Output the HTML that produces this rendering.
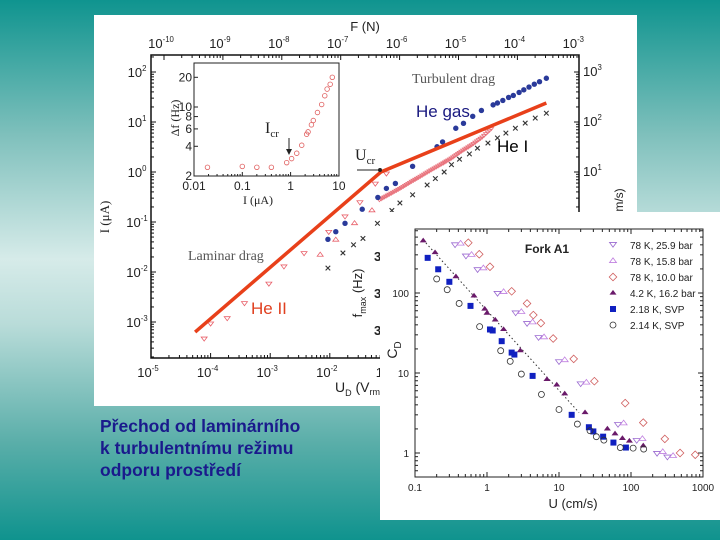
<!DOCTYPE html>
<html><head><meta charset="utf-8"><style>
html,body{margin:0;padding:0}
body{width:720px;height:540px;overflow:hidden;background:linear-gradient(to bottom,#0f948f 0%,#7fc0bc 25%,#d6ebe9 48%,#b9dcd9 60%,#5aaea9 82%,#0f938e 100%);font-family:"Liberation Sans",sans-serif}
svg{position:absolute;left:0;top:0}
</style></head><body>
<svg id="s" width="720" height="540" viewBox="0 0 720 540">
<rect x="94" y="15" width="543" height="391" fill="#fff"/>
<g id="main"></g>
<rect x="380" y="212" width="340" height="308" fill="#fff"/>
<g id="cd"></g>
<text x="100" y="432" font-size="17.5" font-weight="bold" fill="#1a1a8c" font-family="Liberation Sans, sans-serif">Přechod od laminárního</text>
<text x="100" y="454" font-size="17.5" font-weight="bold" fill="#1a1a8c" font-family="Liberation Sans, sans-serif">k turbulentnímu režimu</text>
<text x="100" y="476" font-size="17.5" font-weight="bold" fill="#1a1a8c" font-family="Liberation Sans, sans-serif">odporu prostředí</text>
</svg>
<script>
// ===== main chart data =====
const lineU=[5.5e-5,0.072,43];
const lineI=[6.3e-4,1.0,24];
const gasU=[0.0093,0.0126,0.018,0.035,0.064,0.089,0.126,0.245,0.63,0.78,1.3,1.75,2.5,3.5,5.5,6.5,8,10,12,15,18,22,27,33,43];
const gasI=[0.045,0.064,0.094,0.18,0.31,0.47,0.59,1.3,3.2,4.0,7.5,9.4,13,17,22,24,27,31,34,39,44,50,57,64,75];
const heIU=[0.0093,0.0166,0.025,0.036,0.063,0.11,0.15,0.245,0.43,0.59,0.83,1.1,1.5,2.2,3,4.5,6.5,9,13,19,28,43];
const heIIv=[0.012,0.024,0.035,0.047,0.094,0.17,0.24,0.35,0.55,0.74,1.0,1.4,1.8,2.3,3.0,3.8,4.8,6,7.5,9.5,12,15];
const heIIU=[7.8e-5,1e-4,1.9e-4,3.7e-4,9.5e-4,1.7e-3,3.7e-3,9.6e-3,0.018,0.032,0.058,0.089];
const heIII=[4.7e-4,9.4e-4,1.2e-3,2.4e-3,5.9e-3,0.013,0.024,0.064,0.13,0.25,0.59,0.94];
const upU=[6.9e-3,0.0126,0.026,0.051];
const upI=[0.022,0.044,0.094,0.17];
const bandU=[0.068,0.1,0.15,0.22,0.33,0.5,0.75,1.1,1.6,2.4,3.6,5.5];
const bandI=[0.28,0.36,0.47,0.62,0.82,1.1,1.45,1.9,2.6,3.5,5.0,8];
const insetI=[0.019,0.1,0.2,0.4,0.83,1.05,1.34,1.7,2.15,2.3,2.7,2.95,3.6,4.4,5.1,5.7,6.6,7.3];
const insetDf=[2.45,2.5,2.45,2.45,2.73,3.0,3.4,4.1,5.3,5.6,6.6,7.3,8.8,10.6,13,15.2,17,20];
const mainXTicks=[-5,-4,-3,-2,-1];
const mainYTicks=[2,1,0,-1,-2,-3];
const topTicks=[-10,-9,-8,-7,-6,-5,-4,-3];
const rightTicks=[3,2,1];
const insetXLabels=["0.01","0.1","1","10"];
const insetYTicks=[2,4,6,8,10,20];
// ===== CD chart data =====
const dnU=[0.36,0.51,0.74,1.4,2.5,3.6,5.2,10,20,66,120,230,320];
const dnC=[405,293,198,100,57,42,28,14,7.4,2.3,1.45,1.0,0.9];
const upCU=[0.43,0.61,0.89,1.7,3.0,4.3,6.2,12,24,79,144,276,384];
const upCC=[415,300,204,103,58,43,28,14.5,7.6,2.35,1.5,1.03,0.92];
const diaU=[0.55,0.78,1.1,2.2,3.6,4.4,5.6,8.3,16,31,83,148,295,480,780];
const diaC=[425,305,213,105,74,53,42,27,15,7.9,4.2,2.4,1.5,1.0,0.95];
const triU=[0.13,0.19,0.37,0.66,0.93,1.0,1.3,1.7,2.9,6.8,9.3,12,23,47,60,76,95,148];
const triC=[450,320,160,92,63,56,46,35,19,8.3,7.1,5.5,3.2,2.0,1.74,1.52,1.41,1.23];
const sqU=[0.15,0.21,0.30,0.59,1.1,1.2,1.6,2.2,2.4,4.3,15,26,30,41,57,85];
const sqC=[275,198,138,69,35,34,25,18,17,9.2,3.0,2.1,1.86,1.6,1.35,1.17];
const ocU=[0.20,0.28,0.41,0.79,1.55,2.1,3.0,5.7,10,18,27,33,42,71,107,150];
const ocC=[150,110,74,38,19,14,9.7,5.4,3.5,2.3,1.9,1.6,1.45,1.17,1.15,1.12];
const fitU=[0.13,19];
const fitC=[460,3.2];
const cdXLabels=["0.1","1","10","100","1000"];
const cdYLabels=["1","10","100"];
const legendLabels=["78 K, 25.9 bar","78 K, 15.8 bar","78 K, 10.0 bar","4.2 K, 16.2 bar","2.18 K, SVP","2.14 K, SVP"];

const NS="http://www.w3.org/2000/svg";
const L=Math.log10;
function E(p,tag,a,txt){const e=document.createElementNS(NS,tag);for(const k in a)e.setAttribute(k,a[k]);if(txt!==undefined)e.textContent=txt;p.appendChild(e);return e;}
const main=document.getElementById('main');
const cd=document.getElementById('cd');
const mx=v=>151+(L(v)+5)*59.6;
const my=v=>72+(2-L(v))*50;
const fx=e=>164+(e+10)*58.9;
const ix=v=>194+(L(v)+2)*48.3;
const iy=v=>176-(L(v)-L(2))*98.7;
const cx=v=>415+(L(v)+1)*72;
const cy=v=>293+(2-L(v))*80;

function sup(p,x,y,base,ex,fs,anchor,name){
  const t=E(p,'text',{x:x,y:y,'font-size':fs,'text-anchor':anchor||'middle',fill:'#222'});
  
  
  t.appendChild(document.createTextNode(base));
  const s=document.createElementNS(NS,'tspan');s.setAttribute('dy',-fs*0.45);s.setAttribute('font-size',fs*0.6);s.textContent=ex;t.appendChild(s);
  return t;
}
const fr=E(main,'rect',{x:151,y:55,width:428,height:303,fill:'none',stroke:'#111','stroke-width':1.5});


for(let d=-5;d<2.2;d++)for(let k=1;k<10;k++){const x=mx(k*Math.pow(10,d));if(x>579)break;const len=k==1?5:3;
  E(main,'line',{x1:x,y1:358,x2:x,y2:358-len,stroke:'#111'});}
for(let d=-10;d<-3;d++)for(let k=1;k<10;k++){const x=fx(d+L(k));if(x>579)break;const len=k==1?5:3;
  E(main,'line',{x1:x,y1:55,x2:x,y2:55+len,stroke:'#111'});}
for(let d=-4;d<3;d++)for(let k=1;k<10;k++){const y=my(k*Math.pow(10,d));if(y<55||y>358)continue;const len=k==1?5:3;
  E(main,'line',{x1:151,y1:y,x2:151+len,y2:y,stroke:'#111'});E(main,'line',{x1:579,y1:y,x2:579-len,y2:y,stroke:'#111'});}
mainXTicks.forEach(e=>sup(main,mx(Math.pow(10,e))-3,377,'10',String(e),13,'middle','x-tick-label'));
mainYTicks.forEach(e=>sup(main,137,my(Math.pow(10,e))+5,'10',String(e),13,'middle','y-tick-label'));
topTicks.forEach(e=>sup(main,fx(e)-3,48,'10',String(e),13,'middle','top-tick-label'));
rightTicks.forEach((e,i)=>sup(main,583,my(Math.pow(10,e-1))+4,'10',String(e),13,'start','right-tick-label'));
let t;
t=E(main,'text',{x:365,y:31,'font-size':13,'text-anchor':'middle',fill:'#222'},'F (N)');
t=E(main,'text',{x:0,y:0,'font-size':13,'text-anchor':'middle',fill:'#222','font-family':'Liberation Serif, serif',transform:'translate(109,217) rotate(-90)'},'I (μA)');
t=E(main,'text',{x:0,y:0,'font-size':12,'text-anchor':'middle',fill:'#222',transform:'translate(623,200) rotate(-90)'},'m/s)');
t=E(main,'text',{x:335,y:392,'font-size':14,fill:'#222'},'U');
E(t,'tspan',{dy:4,'font-size':9},'D');E(t,'tspan',{dy:-4},' (V');E(t,'tspan',{dy:3,'font-size':9},'rm');
[256,293,330].forEach(y=>{const q=E(main,'text',{x:374,y:y+5,'font-size':13,'font-weight':'bold',fill:'#222'},'3');});
t=E(main,'text',{x:0,y:0,'font-size':13,'text-anchor':'middle',fill:'#222',transform:'translate(362,293) rotate(-90)'},'f');
E(t,'tspan',{dy:4,'font-size':9},'max');E(t,'tspan',{dy:-4},' (Hz)');
function circ(p,x,y,r,fill,stroke,name){const c=E(p,'circle',{cx:x,cy:y,r:r,fill:fill,stroke:stroke||'none','stroke-width':0.8});}
function tri(p,x,y,s,down,fill,stroke,name){const h=s*0.9;const pts=down?`${x-s},${y-h/2} ${x+s},${y-h/2} ${x},${y+h}`:`${x-s},${y+h/2} ${x+s},${y+h/2} ${x},${y-h}`;const c=E(p,'polygon',{points:pts,fill:fill,stroke:stroke||'none','stroke-width':0.8});}
function cross(p,x,y,s,col,name){const g=E(p,'path',{d:`M${x-s},${y-s}L${x+s},${y+s}M${x-s},${y+s}L${x+s},${y-s}`,stroke:col,'stroke-width':1.1});}
bandU.forEach((u,i)=>{if(i<bandU.length-1){const n=6;for(let j=0;j<n;j++){const a=j/n;const uu=Math.pow(10,L(u)+(L(bandU[i+1])-L(u))*a),ii=Math.pow(10,L(bandI[i])+(L(bandI[i+1])-L(bandI[i]))*a);tri(main,mx(uu),my(ii),2.3,true,'none','#e8707a','he-ii-band-point');}}});
heIIU.forEach((u,i)=>tri(main,mx(u),my(heIII[i]),3,true,'none','#e8606a','he-ii-point'));
upU.forEach((u,i)=>tri(main,mx(u),my(upI[i]),3,false,'none','#e8606a','he-ii-up-point'));
heIU.forEach((u,i)=>cross(main,mx(u),my(heIIv[i]),2.3,'#333','he-i-point'));
gasU.forEach((u,i)=>circ(main,mx(u),my(gasI[i]),2.7,'#2a3a9a',null,'he-gas-point'));
const lp=lineU.map((u,i)=>`${mx(u)},${my(lineI[i])}`).join(' ');
const pl=E(main,'polyline',{points:lp,fill:'none',stroke:'#e8401a','stroke-width':3.5});
E(main,'line',{x1:357,y1:170,x2:380,y2:170,stroke:'#222','stroke-width':1});
E(main,'circle',{cx:380,cy:170,r:2,fill:'#222'});
t=E(main,'text',{x:355,y:160,'font-size':16,fill:'#222','font-family':'Liberation Serif, serif'},'U');E(t,'tspan',{dy:4,'font-size':11},'cr');
t=E(main,'text',{x:412,y:83,'font-size':14,fill:'#555','font-family':'Liberation Serif, serif'},'Turbulent drag');
t=E(main,'text',{x:188,y:260,'font-size':14,fill:'#555','font-family':'Liberation Serif, serif'},'Laminar drag');
t=E(main,'text',{x:416,y:117,'font-size':17,fill:'#1a1a80'},'He gas');
t=E(main,'text',{x:497,y:152,'font-size':17,fill:'#000'},'He I');
t=E(main,'text',{x:251,y:314,'font-size':17,fill:'#e04020'},'He II');
const ib=E(main,'rect',{x:194,y:63,width:145,height:113,fill:'#fff',stroke:'#222','stroke-width':1});
for(let d=-2;d<1;d++)for(let k=1;k<10;k++){const x=ix(k*Math.pow(10,d));E(main,'line',{x1:x,y1:176,x2:x,y2:176-(k==1?4:2),stroke:'#222'});}
insetXLabels.forEach(s=>{const q=E(main,'text',{x:ix(parseFloat(s)),y:190,'font-size':12,'text-anchor':'middle',fill:'#222'},s);});
insetYTicks.forEach(v=>{E(main,'line',{x1:194,y1:iy(v),x2:198,y2:iy(v),stroke:'#222'});const q=E(main,'text',{x:192,y:iy(v)+4,'font-size':12,'text-anchor':'end',fill:'#222'},String(v));});
t=E(main,'text',{x:258,y:204,'font-size':12,'text-anchor':'middle',fill:'#222','font-family':'Liberation Serif, serif'},'I (μA)');
t=E(main,'text',{x:0,y:0,'font-size':12,'text-anchor':'middle',fill:'#222','font-family':'Liberation Serif, serif',transform:'translate(179,118) rotate(-90)'},'Δf (Hz)');
t=E(main,'text',{x:265,y:133,'font-size':16,fill:'#222','font-family':'Liberation Serif, serif'},'I');E(t,'tspan',{dy:4,'font-size':11},'cr');
E(main,'line',{x1:289,y1:138,x2:289,y2:152,stroke:'#222'});E(main,'polygon',{points:'286,149 292,149 289,155',fill:'#222'});
insetI.forEach((v,i)=>circ(main,ix(v),iy(insetDf[i]),2.3,'none','#e06060','inset-point'));

// ===== CD chart =====
const cf=E(cd,'rect',{x:415,y:229,width:288,height:248,fill:'none',stroke:'#222','stroke-width':1});
for(let d=-1;d<3;d++)for(let k=1;k<10;k++){const x=cx(k*Math.pow(10,d));E(cd,'line',{x1:x,y1:477,x2:x,y2:477-(k==1?5:3),stroke:'#222'});E(cd,'line',{x1:x,y1:229,x2:x,y2:229+(k==1?5:3),stroke:'#222'});}
for(let d=-1;d<3;d++)for(let k=1;k<10;k++){const y=cy(k*Math.pow(10,d));if(y<229||y>477)continue;E(cd,'line',{x1:415,y1:y,x2:415+(k==1?5:3),y2:y,stroke:'#222'});E(cd,'line',{x1:703,y1:y,x2:703-(k==1?5:3),y2:y,stroke:'#222'});}
cdXLabels.forEach(s=>{const q=E(cd,'text',{x:cx(parseFloat(s)),y:491,'font-size':10,'text-anchor':'middle',fill:'#222'},s);});
cdYLabels.forEach(s=>{const q=E(cd,'text',{x:409,y:cy(parseFloat(s))+4,'font-size':10,'text-anchor':'end',fill:'#222'},s);});
t=E(cd,'text',{x:573,y:508,'font-size':13,'text-anchor':'middle',fill:'#222'},'U (cm/s)');
t=E(cd,'text',{x:0,y:0,'font-size':14,'text-anchor':'middle',fill:'#222',transform:'translate(397,350) rotate(-90)'},'C');E(t,'tspan',{dy:4,'font-size':10},'D');
t=E(cd,'text',{x:547,y:253,'font-size':12,'font-weight':'bold','text-anchor':'middle',fill:'#222'},'Fork A1');
const fl=E(cd,'line',{x1:cx(fitU[0]),y1:cy(fitC[0]),x2:cx(fitU[1]),y2:cy(fitC[1]),stroke:'#333','stroke-width':1,'stroke-dasharray':'1.5,2.5'});
function dia(p,x,y,s,col,name){const c=E(p,'polygon',{points:`${x},${y-s} ${x+s},${y} ${x},${y+s} ${x-s},${y}`,fill:'none',stroke:col,'stroke-width':0.8});}
function sq(p,x,y,s,col,name){const c=E(p,'rect',{x:x-s,y:y-s,width:2*s,height:2*s,fill:col});}
dnU.forEach((u,i)=>tri(cd,cx(u),cy(dnC[i]),3.5,true,'none','#9a6ad0','cd-78k-25-9-point'));
upCU.forEach((u,i)=>tri(cd,cx(u),cy(upCC[i]),3.5,false,'none','#c080e0','cd-78k-15-8-point'));
diaU.forEach((u,i)=>dia(cd,cx(u),cy(diaC[i]),3.8,'#d06060','cd-78k-10-0-point'));
triU.forEach((u,i)=>tri(cd,cx(u),cy(triC[i]),3.5,false,'#6a1a6a',null,'cd-4-2k-point'));
sqU.forEach((u,i)=>sq(cd,cx(u),cy(sqC[i]),3,'#1020c0','cd-2-18k-point'));
ocU.forEach((u,i)=>circ(cd,cx(u),cy(ocC[i]),3,'none','#333','cd-2-14k-point'));
legendLabels.forEach((s,i)=>{const y=245+i*16;const x=613;
  if(i==0)tri(cd,x,y-1,3.5,true,'none','#9a6ad0','legend-marker');
  if(i==1)tri(cd,x,y,3.5,false,'none','#c080e0','legend-marker');
  if(i==2)dia(cd,x,y,3.8,'#d06060','legend-marker');
  if(i==3)tri(cd,x,y,3.5,false,'#6a1a6a',null,'legend-marker');
  if(i==4)sq(cd,x,y,3,'#1020c0','legend-marker');
  if(i==5)circ(cd,x,y,3,'none','#333','legend-marker');
  const q=E(cd,'text',{x:630,y:y+4,'font-size':10,fill:'#222'},s);
  
  
});
</script>
</body></html>
